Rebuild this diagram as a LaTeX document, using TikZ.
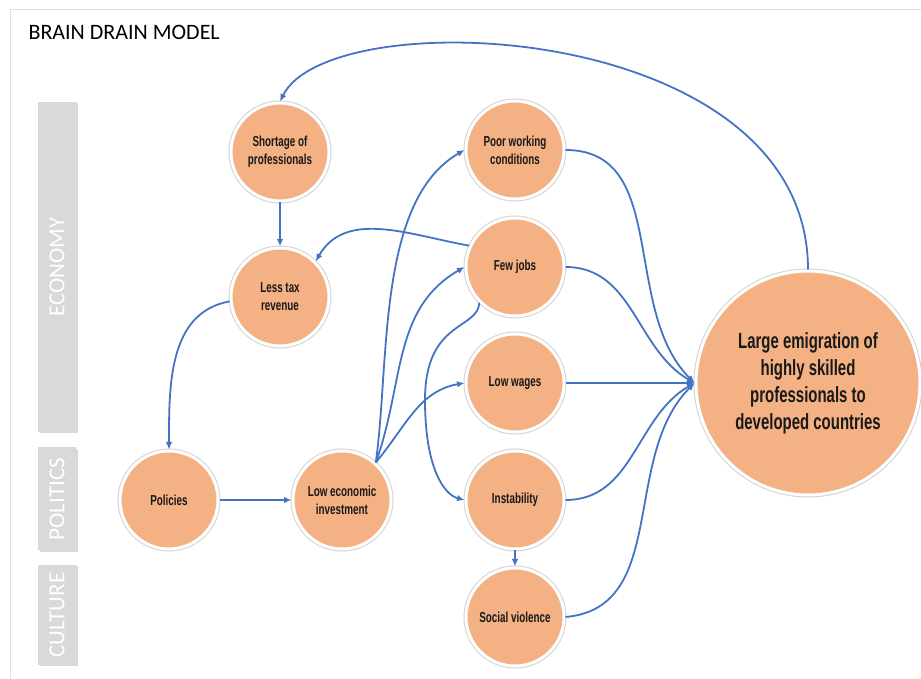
\documentclass[tikz,border=0pt]{standalone}
\usepackage{fontspec}
\setmainfont{Carlito}
\newfontfamily\factorfont{Liberation Sans}[FakeStretch=0.68]
\usetikzlibrary{arrows.meta,shadows}
\definecolor{peach}{HTML}{F4B183}
\definecolor{linkblue}{HTML}{4472C4}
\definecolor{bargray}{HTML}{D9D9D9}

\begin{document}
\begin{tikzpicture}[x=1pt, y=1pt,
	factor/.style={circle, fill=peach, draw=white, line width=3pt, minimum size=98pt, inner sep=0pt, align=center, text=black!90, font=\factorfont\bfseries\fontsize{14.5}{18}\selectfont, preaction={draw=gray!35, line width=5pt}, drop shadow={opacity=0.2, shadow xshift=0.8pt, shadow yshift=-1.2pt}},
	big/.style={minimum size=224pt, font=\factorfont\bfseries\fontsize{22}{27}\selectfont},
	link/.style={draw=linkblue, line width=1.8pt, -{Latex[length=7.5pt,width=6.5pt]}},
	bar/.style={fill=bargray, draw=none, inner sep=0pt, minimum width=38pt, drop shadow={opacity=0.3, shadow xshift=1.5pt, shadow yshift=-1.5pt}},
	bartext/.style={text=white, rotate=90, font=\fontsize{23}{26}\selectfont}]
	\useasboundingbox (0,0) rectangle (921,679);
	\draw[gray!25, line width=1pt] (10,-5) -- (10,669) -- (930,669);
	\node[anchor=base west, font=\fontsize{22}{26}\selectfont] (title) at (25,639) {BRAIN DRAIN MODEL};

	\node[bar, minimum height=330pt] (economy) at (57,412) {};
	\node[bar, minimum height=103pt] (politics) at (57,180) {};
	\node[bar, minimum height=100pt] (culture) at (57,64) {};
	\node[bartext] (economylabel) at (economy) {ECONOMY};
	\node[bartext] (politicslabel) at (politics) {POLITICS};
	\node[bartext] (culturelabel) at (culture) {CULTURE};

	\node[factor] (short) at (280,527) {Shortage of\\professionals};
	\node[factor] (tax) at (280,382) {Less tax\\revenue};
	\node[factor] (pol) at (169,179) {Policies};
	\node[factor] (inv) at (342,179) {Low economic\\investment};
	\node[factor] (poor) at (515,529) {Poor working\\conditions};
	\node[factor] (jobs) at (515,412) {Few jobs};
	\node[factor] (wages) at (515,296) {Low wages};
	\node[factor] (inst) at (515,179) {Instability};
	\node[factor] (viol) at (515,62) {Social violence};
	\node[factor, big] (emig) at (808,296) {Large emigration of\\highly skilled\\professionals to\\developed countries};

	\draw[link] (emig.north) .. controls (808,659) and (330,679) .. (short.north);
	\draw[link] (short) -- (tax);
	\draw[link] (jobs.155) to[out=170, in=60] (tax.45);
	\draw[link] (tax.185) to[out=190, in=90] (pol.north);
	\draw[link] (pol) -- (inv);
	\draw[link] (inv.48) to[out=82, in=210, looseness=0.8] (poor.west);
	\draw[link] (inv.48) to[out=70, in=210] (jobs.west);
	\draw[link] (inv.48) to[out=50, in=190] (wages.west);
	\draw[link] (jobs.225) .. controls (478,349) and (425,359) .. (425,279) .. controls (425,209) and (445,184) .. (inst.west);
	\draw[link] (inst) -- (viol);
	\draw[link] (poor.east) to[out=0, in=135] (emig.west);
	\draw[link] (jobs.east) to[out=0, in=150] (emig.west);
	\draw[link] (wages) -- (emig);
	\draw[link] (inst.east) to[out=0, in=210] (emig.west);
	\draw[link] (viol.east) to[out=5, in=225] (emig.west);
\end{tikzpicture}
\end{document}
